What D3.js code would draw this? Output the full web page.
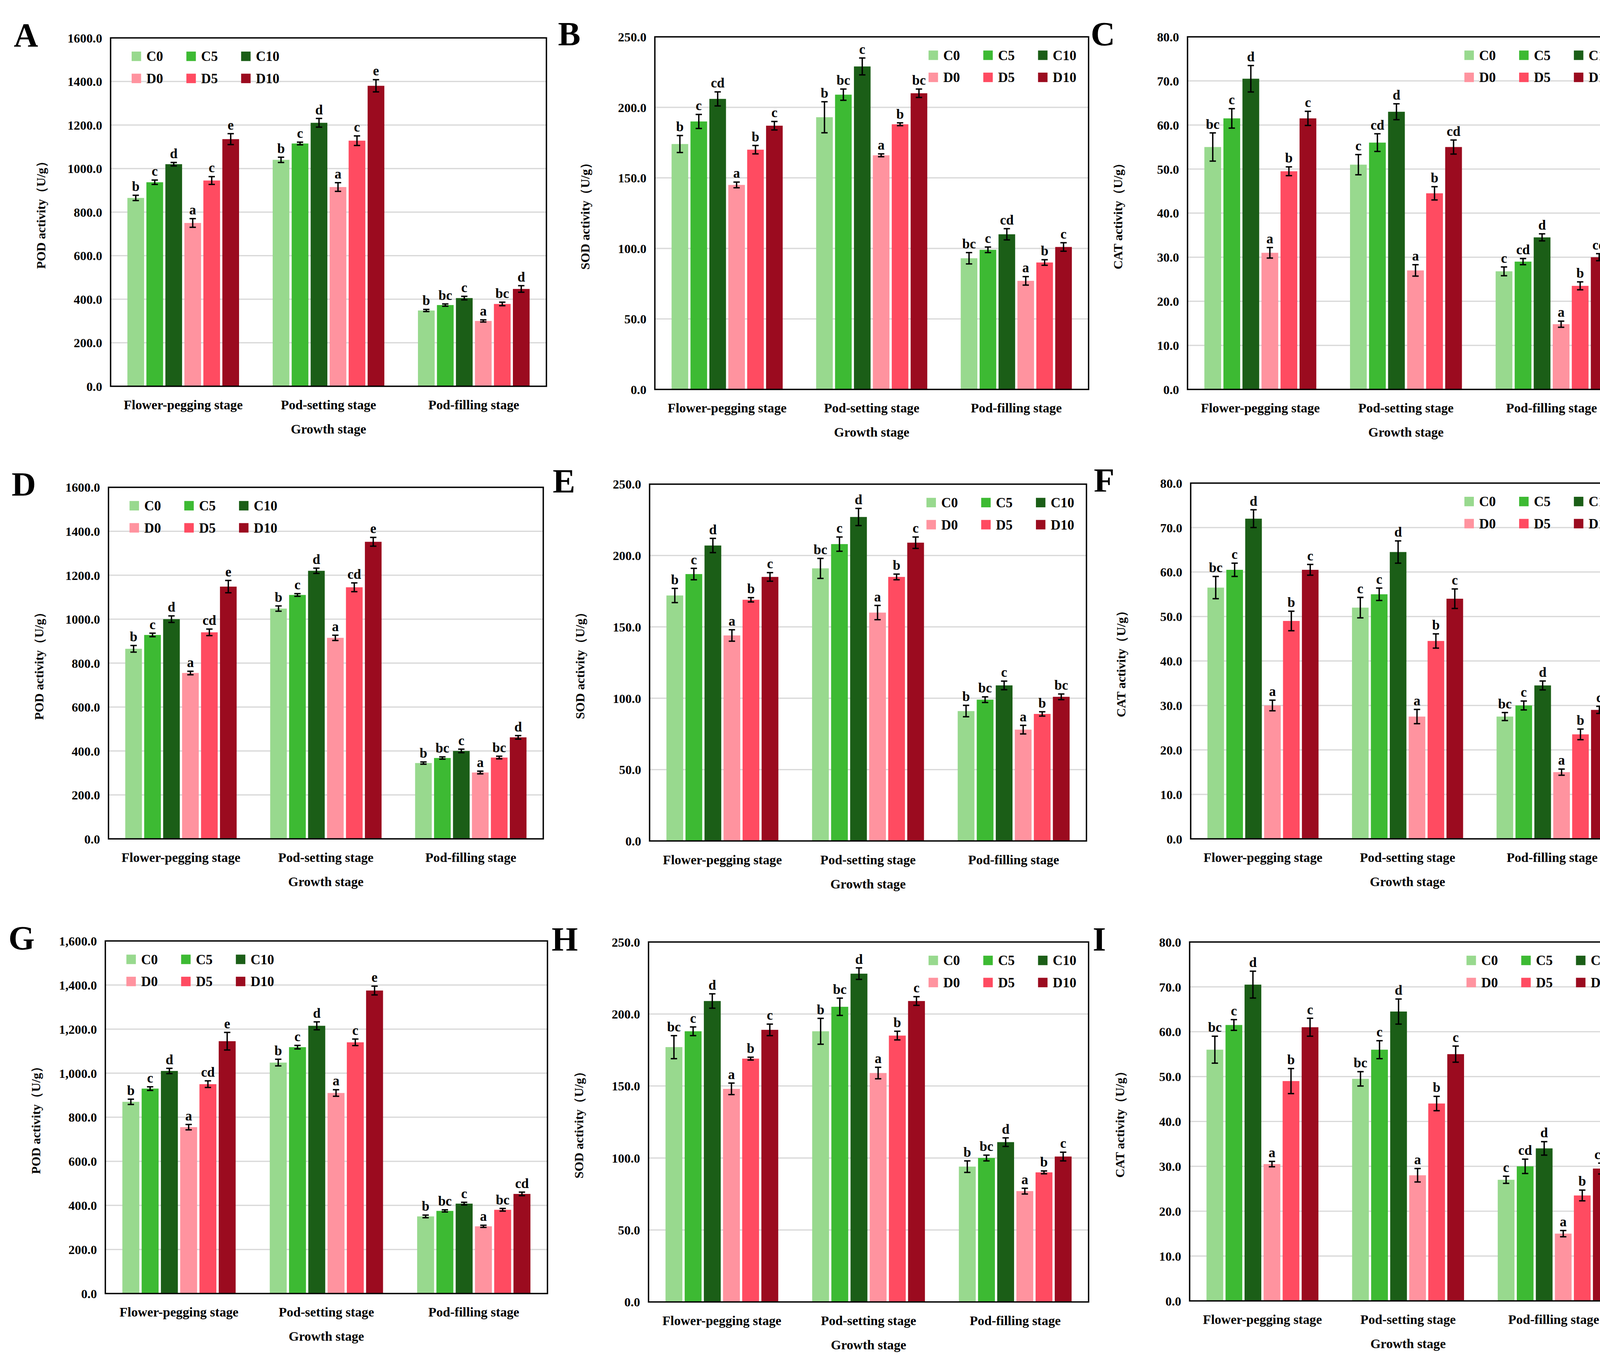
<!DOCTYPE html>
<html><head><meta charset="utf-8">
<script src="https://cdn.jsdelivr.net/npm/d3@7"></script>
<style>html,body{margin:0;padding:0;background:#fff;overflow:hidden}svg{display:block;position:absolute;left:0;top:0}text{font-family:"Liberation Serif","Times New Roman",serif;font-weight:bold}</style>
</head><body><div id="chart"></div>
<script>
const stages = ['Flower-pegging stage', 'Pod-setting stage', 'Pod-filling stage'];
const treatments = ['C0', 'C5', 'C10', 'D0', 'D5', 'D10'];
const colors = ['#98d98e', '#3dba33', '#1b5e17', '#ff939f', '#ff4b61', '#9b0b1f'];

// panel values: [stage][treatment]
const valA = [[865, 937, 1020, 750, 945, 1135], [1040, 1115, 1210, 915, 1128, 1380], [348, 373, 405, 300, 378, 447]];
const errA = [[12, 10, 8, 20, 18, 25], [12, 6, 20, 20, 22, 28], [5, 5, 8, 5, 8, 15]];
const letA = [['b', 'c', 'd', 'a', 'c', 'e'], ['b', 'c', 'd', 'a', 'c', 'e'], ['b', 'bc', 'c', 'a', 'bc', 'd']];
const valB = [[174, 190, 206, 145, 170, 187], [193, 209, 229, 166, 188, 210], [93, 99, 110, 77, 90, 101]];
const errB = [[6, 5, 5, 2, 3, 3], [11, 4, 6, 1, 1, 3], [4, 2, 4, 3, 2, 3]];
const letB = [['b', 'c', 'cd', 'a', 'b', 'c'], ['b', 'bc', 'c', 'a', 'b', 'bc'], ['bc', 'c', 'cd', 'a', 'b', 'c']];
const valC = [[55, 61.5, 70.5, 31, 49.5, 61.5], [51, 56, 63, 27, 44.5, 55], [26.8, 29, 34.5, 14.8, 23.5, 30]];
const errC = [[3.2, 2.2, 3, 1.2, 1, 1.6], [2.3, 2, 1.8, 1.3, 1.5, 1.6], [1, 0.7, 0.8, 0.7, 0.9, 0.8]];
const letC = [['bc', 'c', 'd', 'a', 'b', 'c'], ['c', 'cd', 'd', 'a', 'b', 'cd'], ['c', 'cd', 'd', 'a', 'b', 'cd']];
const valD = [[865, 928, 1000, 755, 940, 1148], [1048, 1110, 1220, 915, 1145, 1352], [345, 368, 400, 302, 370, 462]];
const errD = [[15, 8, 15, 8, 15, 28], [12, 6, 12, 12, 20, 20], [5, 5, 8, 6, 6, 8]];
const letD = [['b', 'c', 'd', 'a', 'cd', 'e'], ['b', 'c', 'd', 'a', 'cd', 'e'], ['b', 'bc', 'c', 'a', 'bc', 'd']];
const valE = [[172, 187, 207, 144, 169, 185], [191, 208, 227, 160, 185, 209], [91, 99, 109, 78, 89, 101]];
const errE = [[5, 4, 5, 4, 1.5, 3], [7, 5, 6, 5, 2, 4], [4, 2, 3, 3, 1.5, 2]];
const letE = [['b', 'c', 'd', 'a', 'b', 'c'], ['bc', 'c', 'd', 'a', 'b', 'c'], ['b', 'bc', 'c', 'a', 'b', 'bc']];
const valF = [[56.5, 60.5, 72, 30, 49, 60.5], [52, 55, 64.5, 27.5, 44.5, 54], [27.5, 30, 34.5, 15, 23.5, 29]];
const errF = [[2.5, 1.5, 2, 1.2, 2.2, 1.2], [2.3, 1.4, 2.5, 1.6, 1.6, 2.2], [0.9, 1, 1, 0.7, 1.2, 0.8]];
const letF = [['bc', 'c', 'd', 'a', 'b', 'c'], ['c', 'c', 'd', 'a', 'b', 'c'], ['bc', 'c', 'd', 'a', 'b', 'c']];
const valG = [[870, 930, 1010, 755, 950, 1145], [1048, 1118, 1215, 910, 1140, 1375], [350, 375, 408, 305, 380, 452]];
const errG = [[12, 8, 12, 12, 15, 40], [15, 8, 18, 15, 15, 20], [6, 5, 6, 5, 6, 8]];
const letG = [['b', 'c', 'd', 'a', 'cd', 'e'], ['b', 'c', 'd', 'a', 'c', 'e'], ['b', 'bc', 'c', 'a', 'bc', 'cd']];
const valH = [[177, 188, 209, 148, 169, 189], [188, 205, 228, 159, 185, 209], [94, 100, 111, 77, 90, 101]];
const errH = [[8, 3, 5, 4, 1, 4], [9, 6, 4, 4, 3, 3], [4, 2, 3, 2, 1, 3]];
const letH = [['bc', 'c', 'd', 'a', 'b', 'c'], ['b', 'bc', 'd', 'a', 'b', 'c'], ['b', 'bc', 'd', 'a', 'b', 'c']];
const valI = [[56, 61.5, 70.5, 30.5, 49, 61], [49.5, 56, 64.5, 28, 44, 55], [27, 30, 34, 15, 23.5, 29.5]];
const errI = [[3, 1.2, 3, 0.6, 2.8, 2], [1.6, 2, 2.8, 1.5, 1.6, 1.8], [0.8, 1.6, 1.5, 0.7, 1.2, 1.2]];
const letI = [['bc', 'c', 'd', 'a', 'b', 'c'], ['bc', 'c', 'd', 'a', 'b', 'c'], ['c', 'cd', 'd', 'a', 'b', 'cd']];

const podTicks = [0, 200, 400, 600, 800, 1000, 1200, 1400, 1600];
const sodTicks = [0, 50, 100, 150, 200, 250];
const catTicks = [0, 10, 20, 30, 40, 50, 60, 70, 80];

const panels = [
  {id: 'A', v: valA, e: errA, l: letA, t: podTicks, y: 'POD activity（U/g）', x: 105, top: 36, w: 414, h: 331, leg: 'left', comma: false},
  {id: 'B', v: valB, e: errB, l: letB, t: sodTicks, y: 'SOD activity（U/g）', x: 622, top: 35, w: 412, h: 335, leg: 'right'},
  {id: 'C', v: valC, e: errC, l: letC, t: catTicks, y: 'CAT activity（U/g）', x: 1128, top: 35, w: 415, h: 335, leg: 'right'},
  {id: 'D', v: valD, e: errD, l: letD, t: podTicks, y: 'POD activity（U/g）', x: 103, top: 463, w: 413, h: 334, leg: 'left'},
  {id: 'E', v: valE, e: errE, l: letE, t: sodTicks, y: 'SOD activity（U/g）', x: 617, top: 460, w: 415, h: 339, leg: 'right'},
  {id: 'F', v: valF, e: errF, l: letF, t: catTicks, y: 'CAT activity（U/g）', x: 1131, top: 459, w: 412, h: 338, leg: 'right'},
  {id: 'G', v: valG, e: errG, l: letG, t: podTicks, y: 'POD activity（U/g）', x: 100, top: 894, w: 420, h: 335, leg: 'left', comma: true},
  {id: 'H', v: valH, e: errH, l: letH, t: sodTicks, y: 'SOD activity（U/g）', x: 616, top: 895, w: 418, h: 342, leg: 'right'},
  {id: 'I', v: valI, e: errI, l: letI, t: catTicks, y: 'CAT activity（U/g）', x: 1130, top: 895, w: 415, h: 341, leg: 'right'}
];

const svg = d3.select('#chart').append('svg')
  .attr('width', 4226).attr('height', 3490)
  .attr('viewBox', '0 0 1568 1295');
svg.append('rect').attr('width', 1568).attr('height', 1295).attr('fill', '#fff');

panels.forEach(p => {
  const g = svg.append('g').attr('transform', 'translate(' + p.x + ',' + p.top + ')');
  const y = d3.scaleLinear().domain([0, d3.max(p.t)]).range([p.h, 0]);
  const x0 = d3.scaleBand().domain(stages).range([0, p.w]).paddingInner(0.2).paddingOuter(0.1);
  const x1 = d3.scaleBand().domain(treatments).range([0, x0.bandwidth()]).padding(0.12);
  const fmt = p.comma ? d3.format(',.1f') : d3.format('.1f');

  g.selectAll('.grid').data(p.t.slice(1, -1)).enter().append('line')
    .attr('x1', 0).attr('x2', p.w).attr('y1', d => y(d)).attr('y2', d => y(d))
    .attr('stroke', '#d9d9d9').attr('stroke-width', 1.2);

  g.append('g').call(d3.axisLeft(y).tickValues(p.t).tickFormat(fmt).tickSize(0).tickPadding(8))
    .call(a => a.select('.domain').remove())
    .selectAll('text').attr('font-size', 12).attr('fill', '#000');

  stages.forEach((s, si) => {
    const sg = g.append('g').attr('transform', 'translate(' + x0(s) + ',0)');
    treatments.forEach((t, ti) => {
      const v = p.v[si][ti], e = p.e[si][ti], bx = x1(t), bw = x1.bandwidth(), cx = bx + bw / 2;
      sg.append('rect').attr('x', bx).attr('y', y(v)).attr('width', bw).attr('height', p.h - y(v)).attr('fill', colors[ti]);
      sg.append('path').attr('d', 'M' + cx + ',' + y(v + e) + 'V' + y(v - e) + 'M' + (cx - 3) + ',' + y(v + e) + 'h6M' + (cx - 3) + ',' + y(v - e) + 'h6')
        .attr('stroke', '#000').attr('stroke-width', 1.3).attr('fill', 'none');
      sg.append('text').attr('x', cx).attr('y', y(v + e) - 4).attr('text-anchor', 'middle')
        .attr('font-size', 13).text(p.l[si][ti]);
    });
    g.append('text').attr('x', x0(s) + x0.bandwidth() / 2).attr('y', p.h + 22).attr('text-anchor', 'middle')
      .attr('font-size', 12.5).text(s);
  });

  g.append('rect').attr('width', p.w).attr('height', p.h).attr('fill', 'none').attr('stroke', '#000').attr('stroke-width', 1.3);
  g.append('text').attr('x', p.w / 2).attr('y', p.h + 45).attr('text-anchor', 'middle').attr('font-size', 12.5).text('Growth stage');
  g.append('text').attr('transform', 'translate(-62,' + (p.h / 2) + ') rotate(-90)').attr('text-anchor', 'middle')
    .attr('font-size', 12).text(p.y);
  g.append('text').attr('x', -92).attr('y', 8).attr('font-size', 32).text(p.id);

  const lx = p.leg === 'left' ? 20 : p.w - 152, ly = 22;
  treatments.forEach((t, i) => {
    const cx = lx + (i % 3) * 52, cy = ly + Math.floor(i / 3) * 21;
    g.append('rect').attr('x', cx).attr('y', cy - 9).attr('width', 9).attr('height', 9).attr('fill', colors[i]);
    g.append('text').attr('x', cx + 14).attr('y', cy).attr('font-size', 13).text(t);
  });
});
</script></body></html>
